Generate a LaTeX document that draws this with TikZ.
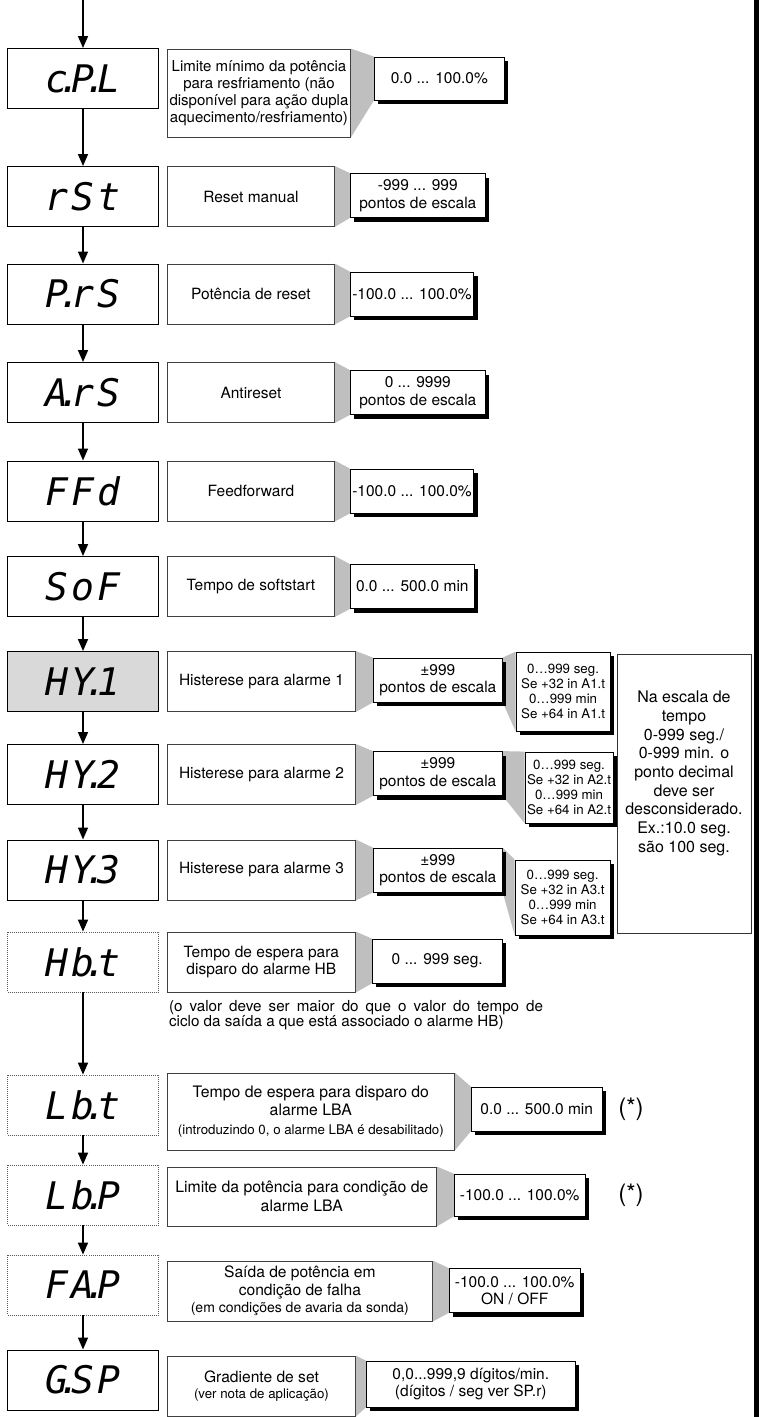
\documentclass[tikz,border=0pt]{standalone}
\usepackage{fontspec}
\setmainfont{TeX Gyre Heros}
\newfontfamily\segfont{DejaVu Sans Mono}[LetterSpace=8]
\usetikzlibrary{positioning,arrows.meta,shadows,backgrounds}

\newcommand{\dt}{\kern-0.26em.\kern-0.26em}

\begin{document}
\begin{tikzpicture}[
    x=1pt, y=1pt,
    font=\fontsize{15.5}{17.5}\selectfont,
    node distance=8pt,
    dispbox/.style={rectangle, draw, line width=1pt, minimum width=151pt, minimum height=60pt, inner sep=0pt, font=\fontsize{38}{38}\segfont\itshape},
    dispdot/.style={dispbox, draw=black!65, line width=0.8pt, dash pattern=on 1pt off 1pt},
    dispgray/.style={dispbox, fill=black!15},
    descbox/.style={rectangle, draw=black!75, line width=0.9pt, align=center, minimum height=60pt, inner sep=2pt},
    rangebox/.style={rectangle, draw, line width=0.8pt, fill=white, align=center, minimum height=44pt, inner sep=2pt, drop shadow={shadow xshift=4pt, shadow yshift=-4pt, opacity=1, fill=black}},
    subbox/.style={rangebox, font=\fontsize{13.3}{14.8}\selectfont},
    notebox/.style={rectangle, draw=black!80, line width=0.9pt, inner sep=4pt, font=\fontsize{16}{18.7}\selectfont},
    linkfill/.style={fill=black!25},
    flowarrow/.style={line width=1.6pt, -{Triangle[width=10pt, length=12pt]}}
    ]
    \useasboundingbox (0,0) rectangle (759,-1417);

    % displays
    \node (cpl) [dispbox] at (83,-78.5) {c\dt P\dt L};
    \node (rst) [dispbox] at (83,-196.5) {rSt};
    \node (prs) [dispbox] at (83,-294) {P\dt rS};
    \node (ars) [dispbox] at (83,-392.5) {A\dt rS};
    \node (ffd) [dispbox] at (83,-491) {FFd};
    \node (sof) [dispbox] at (83,-586.5) {SoF};
    \node (hy1) [dispgray] at (83,-681.5) {HY\dt 1};
    \node (hy2) [dispbox] at (83,-774.5) {HY\dt 2};
    \node (hy3) [dispbox] at (83,-870) {HY\dt 3};
    \node (hbt) [dispdot] at (83,-962) {Hb\dt t};
    \node (lbt) [dispdot] at (83,-1105) {Lb\dt t};
    \node (lbp) [dispdot] at (83,-1195) {Lb\dt P};
    \node (fap) [dispdot] at (83,-1285) {FA\dt P};
    \node (gsp) [dispbox] at (83,-1380) {G\dt SP};

    % descriptions
    \node (cpld) [descbox, right=of cpl, yshift=-14.5pt, minimum width=183pt, minimum height=88pt, font=\fontsize{15}{17.2}\selectfont] {Limite mínimo da potência\\para resfriamento (não\\disponível para ação dupla\\aquecimento/resfriamento)};
    \node (rstd) [descbox, right=of rst, minimum width=167pt] {Reset manual};
    \node (prsd) [descbox, right=of prs, minimum width=167pt] {Potência de reset};
    \node (arsd) [descbox, right=of ars, minimum width=167pt] {Antireset};
    \node (ffdd) [descbox, right=of ffd, minimum width=167pt] {Feedforward};
    \node (sofd) [descbox, right=of sof, minimum width=167pt] {Tempo de softstart};
    \node (hy1d) [descbox, right=of hy1, minimum width=188pt] {Histerese para alarme 1};
    \node (hy2d) [descbox, right=of hy2, minimum width=188pt] {Histerese para alarme 2};
    \node (hy3d) [descbox, right=of hy3, minimum width=188pt] {Histerese para alarme 3};
    \node (hbtd) [descbox, right=of hbt, minimum width=188pt] {Tempo de espera para\\disparo do alarme HB};
    \node (lbtd) [descbox, right=of lbt, yshift=-6.5pt, minimum width=287pt, minimum height=77pt, font=\fontsize{15.8}{18.5}\selectfont] {Tempo de espera para disparo do\\alarme LBA\\{\fontsize{13.3}{18.5}\selectfont(introduzindo 0, o alarme LBA é desabilitado)}};
    \node (lbpd) [descbox, right=of lbp, yshift=-1.5pt, minimum width=269pt, minimum height=59pt, font=\fontsize{15.8}{19.5}\selectfont] {Limite da potência para condição de\\alarme LBA};
    \node (fapd) [descbox, right=of fap, yshift=-6pt, minimum width=265pt, minimum height=60pt, font=\fontsize{15.6}{17.5}\selectfont] {Saída de potência em\\condição de falha\\{\fontsize{14}{17.5}\selectfont(em condições de avaria da sonda)}};
    \node (gspd) [descbox, right=of gsp, yshift=-6pt, minimum width=188pt, font=\fontsize{15.6}{15.5}\selectfont] {Gradiente de set\\{\fontsize{13.3}{15.5}\selectfont(ver nota de aplicação)}};

    % ranges
    \node (cplv) [rangebox, right=23pt of cpld, yshift=14.5pt, minimum width=130pt, minimum height=43pt] {0.0 ... 100.0\%};
    \node (rstv) [rangebox, right=15pt of rstd, yshift=1pt, minimum width=135pt] {-999 ... 999\\pontos de escala};
    \node (prsv) [rangebox, right=15pt of prsd, minimum width=120pt] {-100.0 ... 100.0\%};
    \node (arsv) [rangebox, right=15pt of arsd, minimum width=135pt] {0 ... 9999\\pontos de escala};
    \node (ffdv) [rangebox, right=15pt of ffdd, minimum width=120pt] {-100.0 ... 100.0\%};
    \node (sofv) [rangebox, right=15pt of sofd, minimum width=124pt] {0.0 ... 500.0 min};
    \node (hy1v) [rangebox, right=17pt of hy1d, yshift=1.5pt, minimum width=129pt] {±999\\pontos de escala};
    \node (hy2v) [rangebox, right=17pt of hy2d, yshift=1pt, minimum width=129pt] {±999\\pontos de escala};
    \node (hy3v) [rangebox, right=17pt of hy3d, minimum width=129pt] {±999\\pontos de escala};
    \node (hbtv) [rangebox, right=16pt of hbtd, yshift=1pt, minimum width=130pt] {0 ... 999 seg.};
    \node (lbtv) [rangebox, right=16pt of lbtd, yshift=2.5pt, minimum width=131pt] {0.0 ... 500.0 min};
    \node (lbpv) [rangebox, right=17pt of lbpd, yshift=1.5pt, minimum width=131pt, minimum height=42pt] {-100.0 ... 100.0\%};
    \node (fapv) [rangebox, right=16pt of fapd, yshift=0.5pt, minimum width=131pt] {-100.0 ... 100.0\%\\ON / OFF};
    \node (gspv) [rangebox, right=10pt of gspd, yshift=2pt, minimum width=209pt, minimum height=46pt] {0,0...999,9 dígitos/min.\\(dígitos / seg ver SP.r)};

    % time scale boxes
    \node (hy1s) [subbox, right=13pt of hy1v, yshift=-11.5pt, minimum width=94pt, minimum height=79pt] {0…999 seg.\\Se +32 in A1.t\\0…999 min\\Se +64 in A1.t};
    \node (hy2s) [subbox, right=22pt of hy2v, yshift=-14pt, minimum width=85pt, minimum height=71pt] {0…999 seg.\\Se +32 in A2.t\\0…999 min\\Se +64 in A2.t};
    \node (hy3s) [subbox, right=12pt of hy3v, yshift=-27.5pt, minimum width=95pt, minimum height=75pt] {0…999 seg.\\Se +32 in A3.t\\0…999 min\\Se +64 in A3.t};
    \node (scale) [notebox, minimum width=134pt, minimum height=279pt] at (684,-793.5) {\parbox[c][271pt][t]{126pt}{\centering\vspace*{33pt}Na escala de\\tempo\\0-999 seg./\\0-999 min. o\\ponto decimal\\deve ser\\desconsiderado.\\Ex.:10.0 seg.\\são 100 seg.}};

    % remarks
    \node (hbtn) [anchor=north west, text width=374pt, align=justify, inner sep=0pt, font=\fontsize{15.2}{14.7}\selectfont] at ([xshift=2pt, yshift=-8pt]hbtd.south west) {(o valor deve ser maior do que o valor do tempo de\linebreak ciclo da saída a que está associado o alarme HB)};
    \node (lbtx) [font=\fontsize{24}{24}\selectfont] at (631,-1109) {(*)};
    \node (lbpx) [font=\fontsize{24}{24}\selectfont] at (631,-1195) {(*)};

    % flow
    \coordinate (start) at (83,0);
    \draw[flowarrow] (start) -- (cpl);
    \draw[flowarrow] (cpl) -- (rst);
    \draw[flowarrow] (rst) -- (prs);
    \draw[flowarrow] (prs) -- (ars);
    \draw[flowarrow] (ars) -- (ffd);
    \draw[flowarrow] (ffd) -- (sof);
    \draw[flowarrow] (sof) -- (hy1);
    \draw[flowarrow] (hy1) -- (hy2);
    \draw[flowarrow] (hy2) -- (hy3);
    \draw[flowarrow] (hy3) -- (hbt);
    \draw[flowarrow] (hbt) -- (lbt);
    \draw[flowarrow] (lbt) -- (lbp);
    \draw[flowarrow] (lbp) -- (fap);
    \draw[flowarrow] (fap) -- (gsp);

    % grey links
    \begin{scope}[on background layer]
    \fill[linkfill] (cpld.north east) -- (cplv.north west) -- (cplv.south west) -- (cpld.south east) -- cycle;
    \fill[linkfill] (rstd.north east) -- (rstv.north west) -- (rstv.south west) -- (rstd.south east) -- cycle;
    \fill[linkfill] (prsd.north east) -- (prsv.north west) -- (prsv.south west) -- (prsd.south east) -- cycle;
    \fill[linkfill] (arsd.north east) -- (arsv.north west) -- (arsv.south west) -- (arsd.south east) -- cycle;
    \fill[linkfill] (ffdd.north east) -- (ffdv.north west) -- (ffdv.south west) -- (ffdd.south east) -- cycle;
    \fill[linkfill] (sofd.north east) -- (sofv.north west) -- (sofv.south west) -- (sofd.south east) -- cycle;
    \fill[linkfill] (hy1d.north east) -- (hy1v.north west) -- (hy1v.south west) -- (hy1d.south east) -- cycle;
    \fill[linkfill] (hy2d.north east) -- (hy2v.north west) -- (hy2v.south west) -- (hy2d.south east) -- cycle;
    \fill[linkfill] (hy3d.north east) -- (hy3v.north west) -- (hy3v.south west) -- (hy3d.south east) -- cycle;
    \fill[linkfill] (hbtd.north east) -- (hbtv.north west) -- (hbtv.south west) -- (hbtd.south east) -- cycle;
    \fill[linkfill] (lbtd.north east) -- (lbtv.north west) -- (lbtv.south west) -- (lbtd.south east) -- cycle;
    \fill[linkfill] (lbpd.north east) -- (lbpv.north west) -- (lbpv.south west) -- (lbpd.south east) -- cycle;
    \fill[linkfill] (fapd.north east) -- (fapv.north west) -- (fapv.south west) -- (fapd.south east) -- cycle;
    \fill[linkfill] (gspd.north east) -- (gspv.north west) -- (gspv.south west) -- (gspd.south east) -- cycle;
    \fill[linkfill] (hy1v.north east) -- (hy1s.north west) -- (hy1s.south west) -- (hy1v.south east) -- cycle;
    \fill[linkfill] (hy2v.north east) -- (hy2s.north west) -- (hy2s.south west) -- (hy2v.south east) -- cycle;
    \fill[linkfill] (hy3v.north east) -- (hy3s.north west) -- (hy3s.south west) -- (hy3v.south east) -- cycle;
    \end{scope}

    % side bar
    \fill (754,0) rectangle (759,-1417);
\end{tikzpicture}
\end{document}
